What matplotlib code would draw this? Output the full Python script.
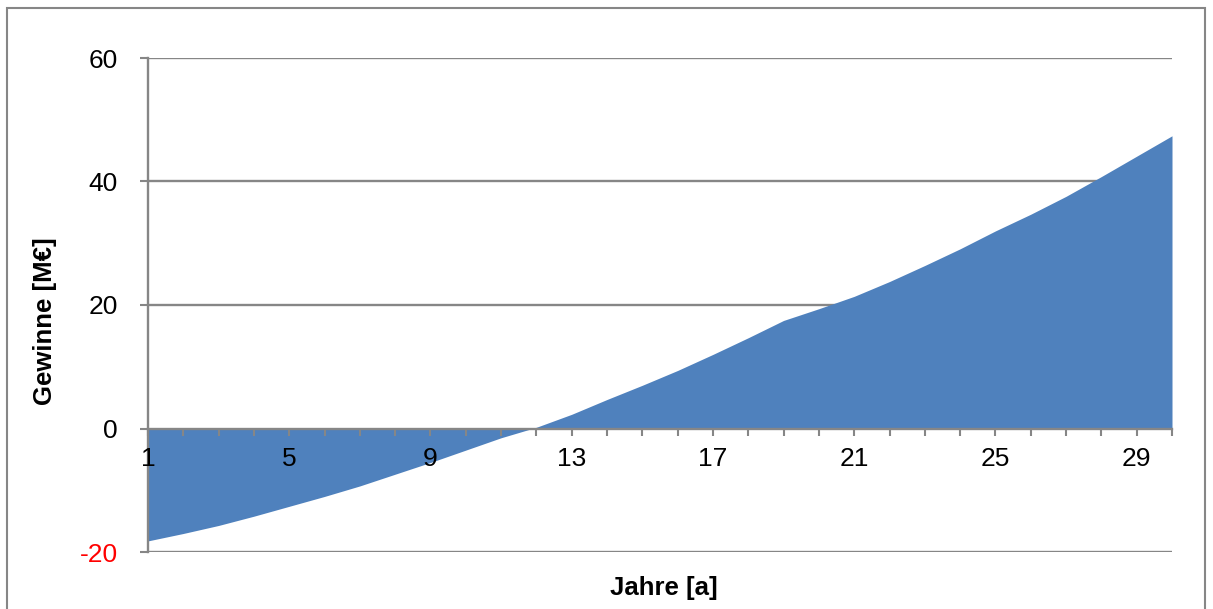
import numpy as np
import matplotlib.pyplot as plt
from matplotlib.patches import Rectangle

plt.rcParams['font.family'] = ['Liberation Sans', 'DejaVu Sans']

# Jahre und kumulierte Gewinne in M€
jahre = list(range(1, 31))
gewinne = [-18.2, -17.0, -15.7, -14.2, -12.6, -11.0, -9.3, -7.4, -5.5, -3.5,
           -1.5, 0.2, 2.3, 4.7, 7.0, 9.4, 12.0, 14.7, 17.5, 19.4,
           21.4, 23.8, 26.4, 29.1, 32.0, 34.7, 37.6, 40.8, 44.1, 47.4]

y_ticks = [-20, 0, 20, 40, 60]
y_labels = ['-20', '0', '20', '40', '60']
x_labels = [str(j) if (j - 1) % 4 == 0 else '' for j in jahre]

grau = '#868686'
blau = '#4F81BD'

W, H = 1213, 609
fig = plt.figure(figsize=(W / 100, H / 100), dpi=100)
ax = fig.add_axes([148 / W, 1 - 552 / H, (1172 - 148) / W, (552 - 58) / H])

ax.fill_between(jahre, 0, gewinne, color=blau, lw=0, zorder=1.2)

# Gitterlinien hinter der Flaeche
for y in [-20, 20, 40, 60]:
    ax.axhline(y, color=grau, lw=1.7, zorder=1)

ax.set_xlim(1, 30)
ax.set_ylim(-20, 60)

for s in ['top', 'right']:
    ax.spines[s].set_visible(False)
ax.spines['bottom'].set_position(('data', 0))
ax.spines['bottom'].set_color(grau)
ax.spines['bottom'].set_linewidth(1.7)
ax.spines['left'].set_color(grau)
ax.spines['left'].set_linewidth(1.7)

ax.set_xticks(jahre)
ax.set_xticklabels(x_labels)
ax.set_yticks(y_ticks)
ax.set_yticklabels(y_labels)
ax.tick_params(axis='x', direction='out', length=5, width=1.5, color=grau,
               labelsize=19, pad=8)
ax.tick_params(axis='y', direction='out', length=5.8, width=1.5, color=grau,
               labelsize=19, pad=16)
ax.get_yticklabels()[0].set_color('red')
ax.xaxis.set_zorder(3)
ax.yaxis.set_zorder(3)

fig.text(664 / W, 1 - 588 / H, 'Jahre [a]', ha='center', va='center',
         fontsize=18.5, fontweight='bold')
fig.text(45 / W, 1 - 321 / H, 'Gewinne [M€]', ha='center', va='center',
         rotation=90, fontsize=18.5, fontweight='bold')

# Rahmen um das Diagramm
fig.patches.append(Rectangle((7 / W, -0.1), (1205 - 7) / W, 1 - 8 / H + 0.1,
                             transform=fig.transFigure, fill=False,
                             edgecolor=grau, lw=1.5))

plt.savefig('out.png', dpi=100)
